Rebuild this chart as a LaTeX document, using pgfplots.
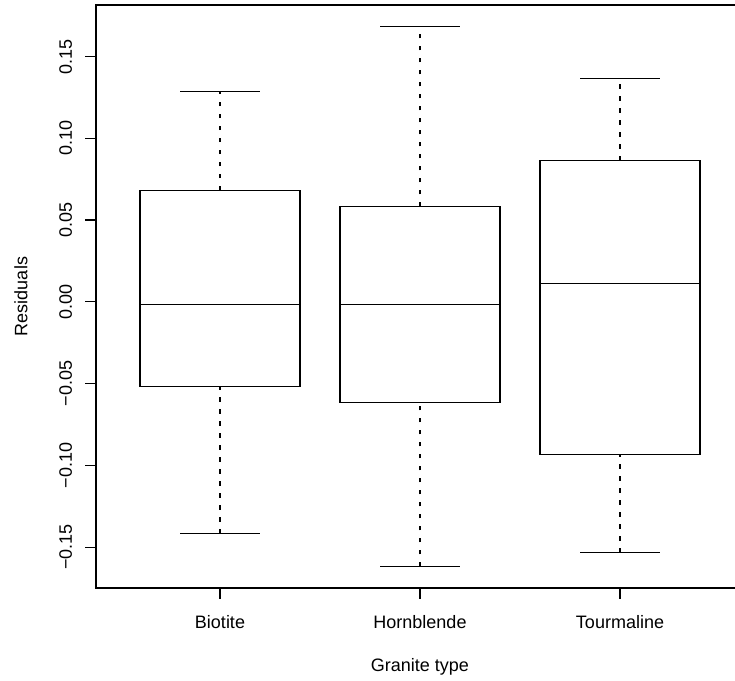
\documentclass[border=0pt]{standalone}
\usepackage{fontspec}
\setmainfont{Liberation Sans}
\usepackage{pgfplots}
\pgfplotsset{compat=1.18}
\begin{document}
\fontsize{9pt}{10.8pt}\selectfont
\begin{tikzpicture}[x=1pt,y=1pt]
\useasboundingbox (0,0) rectangle (367.5,340.5);
\begin{axis}[
  at={(48pt,46.5pt)}, anchor=south west,
  scale only axis, width=324pt, height=291.5pt,
  xmin=0.38, xmax=3.62, ymin=-0.1750, ymax=0.1815,
  axis line style={black, line width=0.6pt},
  tick style={black, line width=0.6pt},
  tick align=outside, major tick length=5.3pt,
  xtick pos=bottom, ytick pos=left,
  xtick={1,2,3}, xticklabels={Biotite,Hornblende,Tourmaline},
  ytick={-0.15,-0.10,-0.05,0,0.05,0.10,0.15},
  yticklabels={−0.15,−0.10,−0.05,0.00,0.05,0.10,0.15},
  yticklabel style={xshift=-6.5pt, rotate=90, anchor=south, inner sep=0pt},
  xticklabel style={anchor=center, inner sep=0pt, yshift=-11.85pt},
  every axis x label/.style={at={(axis description cs:0.5,0)}, anchor=center, yshift=-39.5pt},
  every axis y label/.style={at={(axis description cs:0,0.5)}, xshift=-37.5pt, rotate=90, anchor=center},
  xlabel={Granite type}, ylabel={Residuals},
  box/.style={black, line width=0.6pt, line join=miter},
  whisk/.style={black, line width=0.6pt, dash pattern=on 2.2pt off 3.8pt},
]
% Biotite: lower whisker, Q1, median, Q3, upper whisker
\addplot[whisk] coordinates {(1,-0.1418) (1,-0.0517)};
\addplot[whisk] coordinates {(1,0.0683) (1,0.1284)};
\addplot[box] coordinates {(0.8,-0.1418) (1.2,-0.1418)};
\addplot[box] coordinates {(0.8,0.1284) (1.2,0.1284)};
\addplot[box] coordinates {(0.6,-0.0517) (1.4,-0.0517) (1.4,0.0683) (0.6,0.0683)} --cycle;
\addplot[box] coordinates {(0.6,-0.0017) (1.4,-0.0017)};
% Hornblende
\addplot[whisk] coordinates {(2,-0.1618) (2,-0.0615)};
\addplot[whisk] coordinates {(2,0.0583) (2,0.1683)};
\addplot[box] coordinates {(1.8,-0.1618) (2.2,-0.1618)};
\addplot[box] coordinates {(1.8,0.1683) (2.2,0.1683)};
\addplot[box] coordinates {(1.6,-0.0615) (2.4,-0.0615) (2.4,0.0583) (1.6,0.0583)} --cycle;
\addplot[box] coordinates {(1.6,-0.0018) (2.4,-0.0018)};
% Tourmaline
\addplot[whisk] coordinates {(3,-0.1534) (3,-0.0933)};
\addplot[whisk] coordinates {(3,0.0864) (3,0.1365)};
\addplot[box] coordinates {(2.8,-0.1534) (3.2,-0.1534)};
\addplot[box] coordinates {(2.8,0.1365) (3.2,0.1365)};
\addplot[box] coordinates {(2.6,-0.0933) (3.4,-0.0933) (3.4,0.0864) (2.6,0.0864)} --cycle;
\addplot[box] coordinates {(2.6,0.0114) (3.4,0.0114)};
\end{axis}
\end{tikzpicture}
\end{document}
